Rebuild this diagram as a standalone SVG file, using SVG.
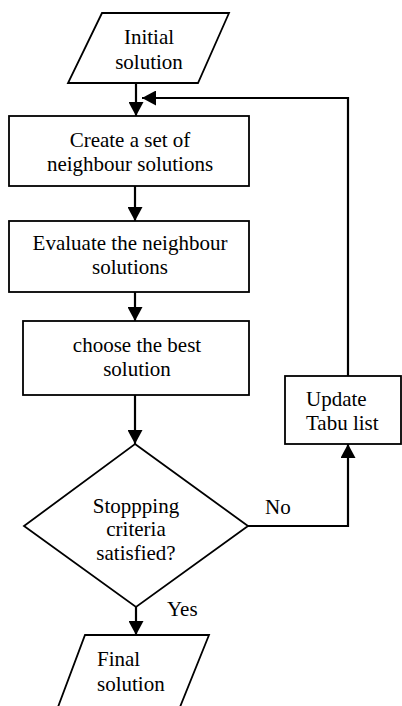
<svg xmlns="http://www.w3.org/2000/svg" width="402" height="706" viewBox="0 0 402 706">
<defs>
<marker id="ah" viewBox="0 0 14 15" refX="14" refY="7.5" markerWidth="14" markerHeight="15" markerUnits="userSpaceOnUse" orient="auto">
<path d="M0,0 L14,7.5 L0,15 Z" fill="#000"/>
</marker>
</defs>
<style>
.s{fill:#fff;stroke:#000;stroke-width:1.8}
.c{fill:none;stroke:#000;stroke-width:2.2}
text{font-family:"Liberation Serif","Times New Roman",serif;font-size:21px;fill:#000}
.m{text-anchor:middle}
</style>
<rect width="402" height="706" fill="#fff"/>
<g id="connectors">
<line class="c" x1="136" y1="83" x2="136" y2="116" marker-end="url(#ah)"/>
<polyline class="c" points="348,376 348,98 142,98" marker-end="url(#ah)"/>
<line class="c" x1="135" y1="186" x2="135" y2="221" marker-end="url(#ah)"/>
<line class="c" x1="135" y1="292" x2="135" y2="321" marker-end="url(#ah)"/>
<line class="c" x1="135" y1="395" x2="135" y2="444" marker-end="url(#ah)"/>
<polyline class="c" points="248,526 348,526 348,444" marker-end="url(#ah)"/>
<line class="c" x1="136" y1="607" x2="136" y2="635" marker-end="url(#ah)"/>
<text x="265" y="514">No</text>
<text x="167" y="616">Yes</text>
</g>
<g id="initial">
<polygon class="s" points="102,13 229,13 198,83 68,83"/>
<text class="m" x="149" y="44">Initial</text>
<text class="m" x="149" y="69">solution</text>
</g>
<g id="create">
<rect class="s" x="9" y="116" width="240" height="70"/>
<text class="m" x="130" y="147">Create a set of</text>
<text class="m" x="130" y="171">neighbour solutions</text>
</g>
<g id="evaluate">
<rect class="s" x="9" y="221" width="240" height="71"/>
<text class="m" x="130" y="250">Evaluate the neighbour</text>
<text class="m" x="130" y="274">solutions</text>
</g>
<g id="choose">
<rect class="s" x="23" y="321" width="226" height="74"/>
<text class="m" x="137" y="352">choose the best</text>
<text class="m" x="137" y="376">solution</text>
</g>
<g id="decision">
<polygon class="s" points="135,444 248,526 136,607 24,526"/>
<text class="m" x="136" y="513">Stoppping</text>
<text class="m" x="136" y="536">criteria</text>
<text class="m" x="136" y="560">satisfied?</text>
</g>
<g id="update">
<rect class="s" x="285" y="376" width="116" height="68"/>
<text x="306" y="406">Update</text>
<text x="306" y="430">Tabu list</text>
</g>
<g id="final">
<polygon class="s" points="85,635 209,635 180,707 58,707"/>
<text x="97" y="666">Final</text>
<text x="97" y="691">solution</text>
</g>
</svg>
